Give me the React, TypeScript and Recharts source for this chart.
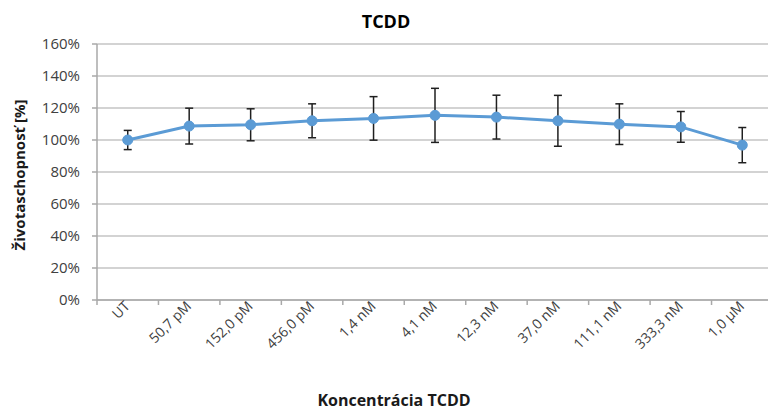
import React from 'react';
import { LineChart, Line, XAxis, YAxis, CartesianGrid, ErrorBar } from 'recharts';

const categories = ['UT', '50,7 pM', '152,0 pM', '456,0 pM', '1,4 nM', '4,1 nM', '12,3 nM', '37,0 nM', '111,1 nM', '333,3 nM', '1,0 µM'];
const viability = [100, 108.7, 109.5, 112, 113.5, 115.4, 114.3, 112, 109.9, 108.2, 96.8];
const errors = [6, 11.2, 10, 10.6, 13.6, 16.9, 13.7, 15.9, 12.7, 9.6, 11];
const yTicks = [0, 20, 40, 60, 80, 100, 120, 140, 160];

const data = categories.map((name, i) => ({ name, pos: i + 0.5, value: viability[i], err: errors[i] }));
// tick positions: category boundaries (integers) and category centres (halves)
const xTicks: number[] = [];
categories.forEach((_, i) => { xTicks.push(i, i + 0.5); });
xTicks.push(categories.length);

const FONT = '"Open Sans", sans-serif';
const AXIS_GRAY = '#a9a9a9';

const XTick = (props: any) => {
  const { x, y, payload } = props;
  const v = payload.value as number;
  if (Number.isInteger(v)) {
    return <line x1={x} x2={x} y1={y - 7} y2={y - 2} stroke={AXIS_GRAY} strokeWidth={1.5} />;
  }
  const label = categories[Math.floor(v)];
  return (
    <g transform={`translate(${x},${y})`}>
      <text
        x={3}
        y={0}
        transform="rotate(-45, 3, 0)"
        textAnchor="end"
        fontFamily={FONT}
        fontSize={14}
        fill="#404040"
      >
        {label}
      </text>
    </g>
  );
};

export default function App() {
  return (
    <div style={{ position: 'fixed', left: 0, top: 0, width: 768, height: 412, overflow: 'hidden', background: '#fff' }}>
      <LineChart width={780} height={412} data={data} margin={{ top: 44, right: 7, bottom: 12, left: 37 }}>
        <CartesianGrid vertical={false} stroke="#c4c4c4" strokeWidth={1.5} />
        <XAxis
          dataKey="pos"
          type="number"
          domain={[0, categories.length]}
          ticks={xTicks}
          interval={0}
          height={100}
          allowDataOverflow
          stroke={AXIS_GRAY}
          strokeWidth={1.5}
          tickLine={false}
          tickSize={5}
          tickMargin={2}
          tick={<XTick />}
        />
        <YAxis
          domain={[0, 160]}
          ticks={yTicks}
          tickFormatter={(v: number) => `${v}%`}
          width={60}
          stroke={AXIS_GRAY}
          strokeWidth={1.5}
          tickSize={5}
          tickMargin={12}
          tick={{ fontFamily: FONT, fontSize: 15, fill: '#404040' }}
        />
        <Line
          dataKey="value"
          stroke="#5b9bd5"
          strokeWidth={3}
          dot={{ r: 5, fill: '#5b9bd5', stroke: '#5b9bd5', strokeWidth: 1 }}
          isAnimationActive={false}
        >
          <ErrorBar dataKey="err" direction="y" width={4} stroke="#1f1f1f" strokeWidth={1.5} />
        </Line>
      </LineChart>
      <svg width={768} height={412} style={{ position: 'absolute', left: 0, top: 0, pointerEvents: 'none' }}>
        <text x={386} y={28} textAnchor="middle" fontFamily={FONT} fontWeight="bold" fontSize={18} fill="#000">TCDD</text>
        <text x={394} y={406} textAnchor="middle" fontFamily={FONT} fontWeight="bold" fontSize={16} fill="#1a1a1a">Koncentrácia TCDD</text>
        <text x={25} y={175} transform="rotate(-90, 25, 175)" textAnchor="middle" fontFamily={FONT} fontWeight="bold" fontSize={15} fill="#1a1a1a">Životaschopnosť [%]</text>
      </svg>
    </div>
  );
}
